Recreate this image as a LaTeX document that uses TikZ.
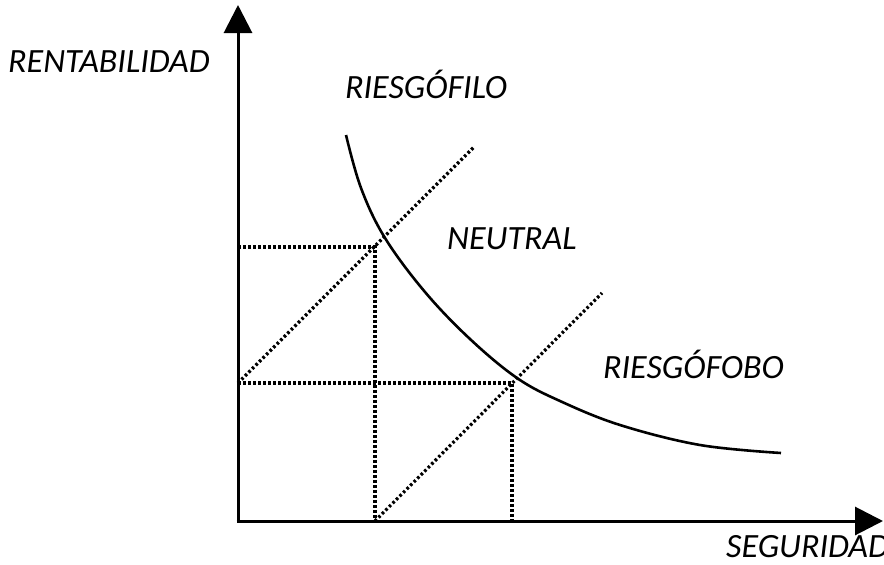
\documentclass[tikz,border=0pt]{standalone}
\usepackage{fontspec}
\setmainfont{Carlito}
\usetikzlibrary{arrows.meta}
\begin{document}
\begin{tikzpicture}[x=1pt,y=-1pt,
  axis/.style={line width=3pt,-{Triangle[length=28pt,width=28pt]}},
  dotline/.style={line width=3.2pt,dash pattern=on 2.6pt off 2.4pt},
  curveline/.style={line width=2.6pt},
  lbl/.style={font=\fontsize{34}{38}\selectfont\itshape,inner sep=0pt,anchor=base west}]
\useasboundingbox (0,0) rectangle (884,565);
\coordinate (O) at (238,521);
\coordinate (Ytop) at (238,5);
\coordinate (Xend) at (883,521);
\coordinate (Y1) at (238,247);
\coordinate (Y2) at (238,383);
\coordinate (P1) at (375,247);
\coordinate (P2) at (512,383);
\coordinate (X1) at (375,521);
\coordinate (X2) at (512,521);
\coordinate (D1) at (474,147);
\coordinate (D2) at (602,293);
% dotted
\draw[dotline] (Y1) -- (P1) -- (X1);
\draw[dotline] (Y2) -- (P2) -- (X2);
\draw[dotline] (Y2) -- (D1);
\draw[dotline] (X1) -- (D2);
% curve
\draw[curveline] plot[smooth,tension=0.6] coordinates {(346,135) (361,188) (385,238) (425,292) (470,339) (517,378) (560,401) (620,425) (700,445) (781,453)};
% axes
\draw[axis] ([yshift=1.5pt]O) -- (Ytop);
\draw[axis] ([xshift=-1.5pt]O) -- (Xend);
% labels
\node[lbl] (rent) at (8,72) {RENTABILIDAD};
\node[lbl] (fil) at (345,98) {RIESGÓFILO};
\node[lbl] (neu) at (447,249) {NEUTRAL};
\node[lbl] (fob) at (603,378) {RIESGÓFOBO};
\node[lbl] (seg) at (726,557) {SEGURIDAD};
\end{tikzpicture}
\end{document}
